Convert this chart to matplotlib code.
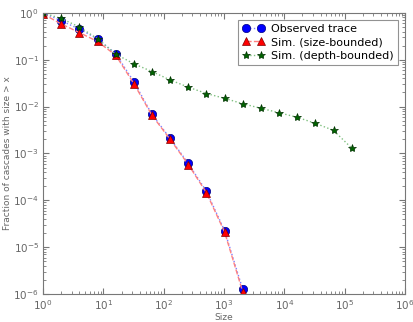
import matplotlib
matplotlib.use("Agg")
import matplotlib.pyplot as plt

# cascade sizes (powers of two) and survival fractions
obs_x = [1, 2, 4, 8, 16, 32, 64, 128, 256, 512, 1024, 2048]
obs_y = [1.0, 0.68, 0.45, 0.28, 0.135, 0.034, 0.0068, 0.0021, 6.1e-4, 1.55e-4, 2.25e-5, 1.25e-6]
size_x = [1, 2, 4, 8, 16, 32, 64, 128, 256, 512, 1024, 2048]
size_y = [0.95, 0.58, 0.38, 0.245, 0.125, 0.031, 0.0065, 0.002, 5.8e-4, 1.45e-4, 2.1e-5, 1.1e-6]
depth_x = [1, 2, 4, 8, 16, 32, 64, 128, 256, 512, 1024, 2048, 4096,
           8192, 16384, 32768, 65536, 131072]
depth_y = [1.0, 0.76, 0.5, 0.28, 0.132, 0.082, 0.056, 0.037, 0.026, 0.019,
           0.015, 0.0115, 0.0092, 0.0074, 0.0059, 0.0044, 0.0031, 0.0013]

GREY = "#666666"

fig = plt.figure(figsize=(4.14, 3.22), dpi=100)
ax = fig.add_axes([0.104, 0.087, 0.874, 0.873])

ax.plot(obs_x, obs_y, ls=":", color="#8080ff", lw=1, marker="o", ms=6,
        mfc="blue", mec="#000080", mew=0.5, label="Observed trace")
ax.plot(size_x, size_y, ls="--", color="#ff8080", lw=1, marker="^", ms=6,
        mfc="red", mec="#800000", mew=0.5, label="Sim. (size-bounded)")
ax.plot(depth_x, depth_y, ls=":", color="#80c080", lw=1, marker="*", ms=6,
        mfc="#006400", mec="#003000", mew=0.5, label="Sim. (depth-bounded)")

ax.set_xscale("log")
ax.set_yscale("log")
ax.set_xlim(1, 1e6)
ax.set_ylim(1e-6, 1)
ax.set_xlabel("Size", fontsize=6.5, color=GREY, labelpad=0.5)
ax.set_ylabel("Fraction of cascades with size > x", fontsize=6.5,
              color=GREY, labelpad=1)
ax.tick_params(which="both", direction="in", top=True, right=True,
               labelsize=7.5, labelcolor=GREY, color="#777777", pad=3)
ax.tick_params(which="major", length=4)
ax.tick_params(which="minor", length=2)
for s in ax.spines.values():
    s.set_color("#777777")
    s.set_linewidth(0.8)

leg = ax.legend(loc="upper right", numpoints=2, fontsize=8, fancybox=False,
                handlelength=2.0, borderpad=0.4, labelspacing=0.3,
                handletextpad=0.6, borderaxespad=0.6)
leg.get_frame().set_edgecolor("#777777")
leg.get_frame().set_linewidth(0.8)

fig.savefig("out.png", dpi=100)
